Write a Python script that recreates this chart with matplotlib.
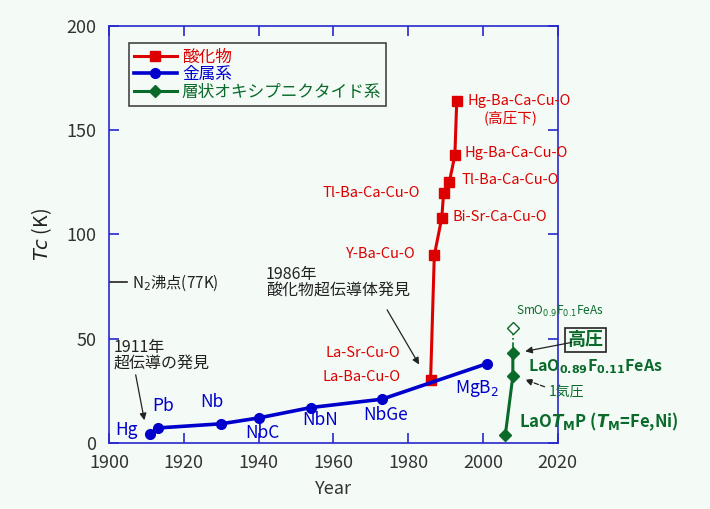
import matplotlib
matplotlib.use('Agg')
import matplotlib.pyplot as plt

plt.rcParams['font.family'] = ['Noto Sans CJK JP', 'DejaVu Sans']
plt.rcParams['mathtext.fontset'] = 'dejavusans'

# data
metal_names = ['Hg', 'Pb', 'Nb', 'NbC', 'NbN', 'NbGe', 'MgB$_{2}$']
metal_year = [1911, 1913, 1930, 1940, 1954, 1973, 2001]
metal_tc = [4.2, 7.2, 9.2, 12, 17, 21, 38]

oxide_year = [1986, 1987, 1989, 1989.5, 1991, 1992.5, 1993]
oxide_tc = [30, 90, 108, 120, 125, 138, 164]

pnic_year = [2006, 2008, 2008]
pnic_tc = [4, 32, 43]
sm_year = [2008, 2008]
sm_tc = [43, 55]

n2_boil = 77

bg = '#f4faf6'
red = '#dd0000'
blue = '#0000cc'
green = '#0a6a2a'
axcol = '#2828cc'

fig = plt.figure(figsize=(7.1, 5.09), dpi=100, facecolor=bg)
ax = fig.add_axes([0.1535, 0.1297, 0.632, 0.8193], facecolor=bg)

ax.plot(oxide_year, oxide_tc, color=red, lw=2.2, marker='s', ms=7, label='酸化物')
ax.plot(metal_year, metal_tc, color=blue, lw=2.6, marker='o', ms=7, label='金属系')
ax.plot(pnic_year, pnic_tc, color=green, lw=2.2, marker='D', ms=6, label='層状オキシプニクタイド系')
ax.plot(sm_year, sm_tc, color=green, lw=1.2, ls='-.', marker=None)
ax.plot(sm_year[-1], sm_tc[-1], marker='D', ms=6, mfc='white', mec=green, mew=1, ls='none')

ax.set_xlim(1900, 2020)
ax.set_ylim(0, 200)
ax.set_xticks(range(1900, 2021, 20))
ax.set_yticks(range(0, 201, 50))
for s in ax.spines.values():
    s.set_color(axcol)
    s.set_linewidth(1.2)
ax.tick_params(direction='in', length=7, width=1.2, color=axcol, labelcolor='#333333',
               labelsize=13, top=True, right=True)
ax.tick_params(axis='x', pad=8)
ax.tick_params(axis='y', pad=9)
ax.set_xlabel('Year', fontsize=13, color='#333333', labelpad=6)
ax.set_ylabel(r'$\mathit{Tc}$ (K)', fontsize=14, color='#222222', labelpad=9)

leg = ax.legend(loc='upper left', bbox_to_anchor=(0.025, 0.978), fontsize=12,
                frameon=True, fancybox=False, edgecolor='#444444', facecolor=bg,
                framealpha=1, labelcolor='linecolor', handlelength=2.6,
                borderpad=0.3, labelspacing=0.05, handletextpad=0.3)
leg.get_frame().set_linewidth(1.2)

# metal labels
metal_pos = [(1904.8, 6), (1914.5, 17.5), (1927.6, 19.7), (1941, 5), (1956.5, 11),
             (1974, 13.5), (1998.3, 26)]
for name, (x, y) in zip(metal_names, metal_pos):
    ax.text(x, y, name, color=blue, fontsize=12.5, ha='center', va='center')

# oxide labels
ax.text(1978, 43, 'La-Sr-Cu-O', color=red, fontsize=10.5, ha='right', va='center')
ax.text(1978, 31.5, 'La-Ba-Cu-O', color=red, fontsize=10.5, ha='right', va='center')
ax.text(1982, 90.5, 'Y-Ba-Cu-O', color=red, fontsize=10.5, ha='right', va='center')
ax.text(1983.2, 120, 'Tl-Ba-Ca-Cu-O', color=red, fontsize=10.5, ha='right', va='center')
ax.text(1991.9, 108.6, 'Bi-Sr-Ca-Cu-O', color=red, fontsize=10.5, ha='left', va='center')
ax.text(1994.3, 126, 'Tl-Ba-Ca-Cu-O', color=red, fontsize=10.5, ha='left', va='center')
ax.text(1995.1, 139, 'Hg-Ba-Ca-Cu-O', color=red, fontsize=10.5, ha='left', va='center')
ax.text(1995.9, 164, 'Hg-Ba-Ca-Cu-O', color=red, fontsize=10.5, ha='left', va='center')
ax.text(2000.3, 156, '(高圧下)', color=red, fontsize=10.5, ha='left', va='center')

# N2 boiling point
ax.axhline(n2_boil, xmin=0, xmax=0.04, color='#222222', lw=1.2)
ax.text(1906.2, n2_boil, 'N$_{2}$沸点(77K)', fontsize=11, color='#222222', va='center')

# history notes
ax.text(1901.3, 50, '1911年\n超伝導の発見', fontsize=11.5, color='#222222',
        va='top', ha='left', linespacing=1.0)
ax.annotate('', xy=(1909.6, 9.6), xytext=(1907, 34),
            arrowprops=dict(arrowstyle='-|>', color='#222222', lw=0.9, mutation_scale=10))
ax.text(1942, 85, '1986年\n酸化物超伝導体発見', fontsize=11.5, color='#222222',
        va='top', ha='left', linespacing=1.0)
ax.annotate('', xy=(1983.3, 36.5), xytext=(1974, 65),
            arrowprops=dict(arrowstyle='-|>', color='#222222', lw=0.9, mutation_scale=10))

# pnictide labels
ax.text(2008.8, 63, 'SmO$_{0.9}$F$_{0.1}$FeAs', color=green, fontsize=8.5,
        va='center', ha='left', clip_on=False)
ax.text(2027.5, 49.5, '高圧', color=green, fontsize=13, fontweight='bold',
        ha='center', va='center', clip_on=False,
        bbox=dict(boxstyle='square,pad=0.15', fc=bg, ec='#222222', lw=1.2))
ax.annotate('', xy=(2010.6, 43.7), xytext=(2024.5, 48.5), annotation_clip=False,
            arrowprops=dict(arrowstyle='-|>', color='#222222', lw=0.9, mutation_scale=10))
ax.text(2012, 36.5, r'LaO$_{\mathbf{0.89}}$F$_{\mathbf{0.11}}$FeAs', color=green,
        fontsize=11.5, fontweight='bold', va='center', ha='left', clip_on=False)
ax.text(2017.6, 24.5, '1気圧', color=green, fontsize=10, va='center', ha='left',
        clip_on=False)
ax.annotate('', xy=(2010.6, 30.8), xytext=(2017.2, 26.5), annotation_clip=False,
            arrowprops=dict(arrowstyle='-|>', color='#222222', lw=0.9, ls='--',
                            mutation_scale=10))
ax.text(2009.6, 10, r'LaO$\mathbfit{T}_{\mathbf{M}}$P ($\mathbfit{T}_{\mathbf{M}}$=Fe,Ni)',
        color=green, fontsize=12, fontweight='bold', va='center', ha='left',
        clip_on=False)

fig.savefig('out.png', dpi=100, facecolor=bg)
